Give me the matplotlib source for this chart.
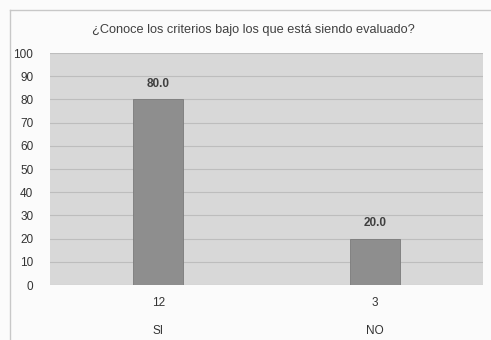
import matplotlib.pyplot as plt
import numpy as np
from matplotlib.lines import Line2D

# Data
categories = ["SI", "NO"]
counts = [12, 3]
percentages = [80.0, 20.0]

bar_color = "#8e8e8e"
area_color = "#d8d8d8"

fig = plt.figure(figsize=(4.91, 3.40), dpi=100)
fig.patch.set_facecolor("#fbfbfb")
ax = fig.add_axes([50 / 491, 1 - 285 / 340, 433 / 491, 232 / 340])
ax.set_facecolor(area_color)

x = np.arange(len(categories))
bars = ax.bar(x, percentages, width=0.23, color=bar_color,
              edgecolor="#7a7a7a", linewidth=0.6, zorder=3)

for xi, v in zip(x, percentages):
    ax.text(xi, v + 4, f"{v:.1f}", ha="center", va="bottom",
            fontsize=8.5, fontweight="bold", color="#404040",
            family="Liberation Sans")

ax.set_xlim(-0.5, 1.5)
ax.set_ylim(0, 100)
ax.set_yticks(range(0, 101, 10))
ax.set_xticks(x)
ax.set_xticklabels([f"{c}\n\n{cat}" for c, cat in zip(counts, categories)],
                   fontsize=8.5, color="#333333", family="Liberation Sans",
                   linespacing=1.2)
ax.tick_params(axis="x", length=0, pad=9, labelsize=8.5, colors="#333333")
ax.tick_params(axis="y", length=0, pad=12, labelsize=8.5, colors="#333333")
for lab in ax.get_yticklabels():
    lab.set_family("Liberation Sans")
ax.grid(axis="y", color="#bdbdbd", linewidth=0.8, zorder=1)
for s in ax.spines.values():
    s.set_visible(False)

fig.text(253 / 491, 1 - 30 / 340, "¿Conoce los criterios bajo los que está siendo evaluado?",
         ha="center", va="center", fontsize=9.2, color="#404040",
         family="Liberation Sans")

# outer chart frame
fig.add_artist(Line2D([10 / 491, 10 / 491], [0, 1 - 10 / 340], color="#c8c8c8", lw=1))
fig.add_artist(Line2D([10 / 491, 1], [1 - 10 / 340, 1 - 10 / 340], color="#c8c8c8", lw=1))

fig.savefig("out.png", dpi=100, facecolor=fig.get_facecolor())
